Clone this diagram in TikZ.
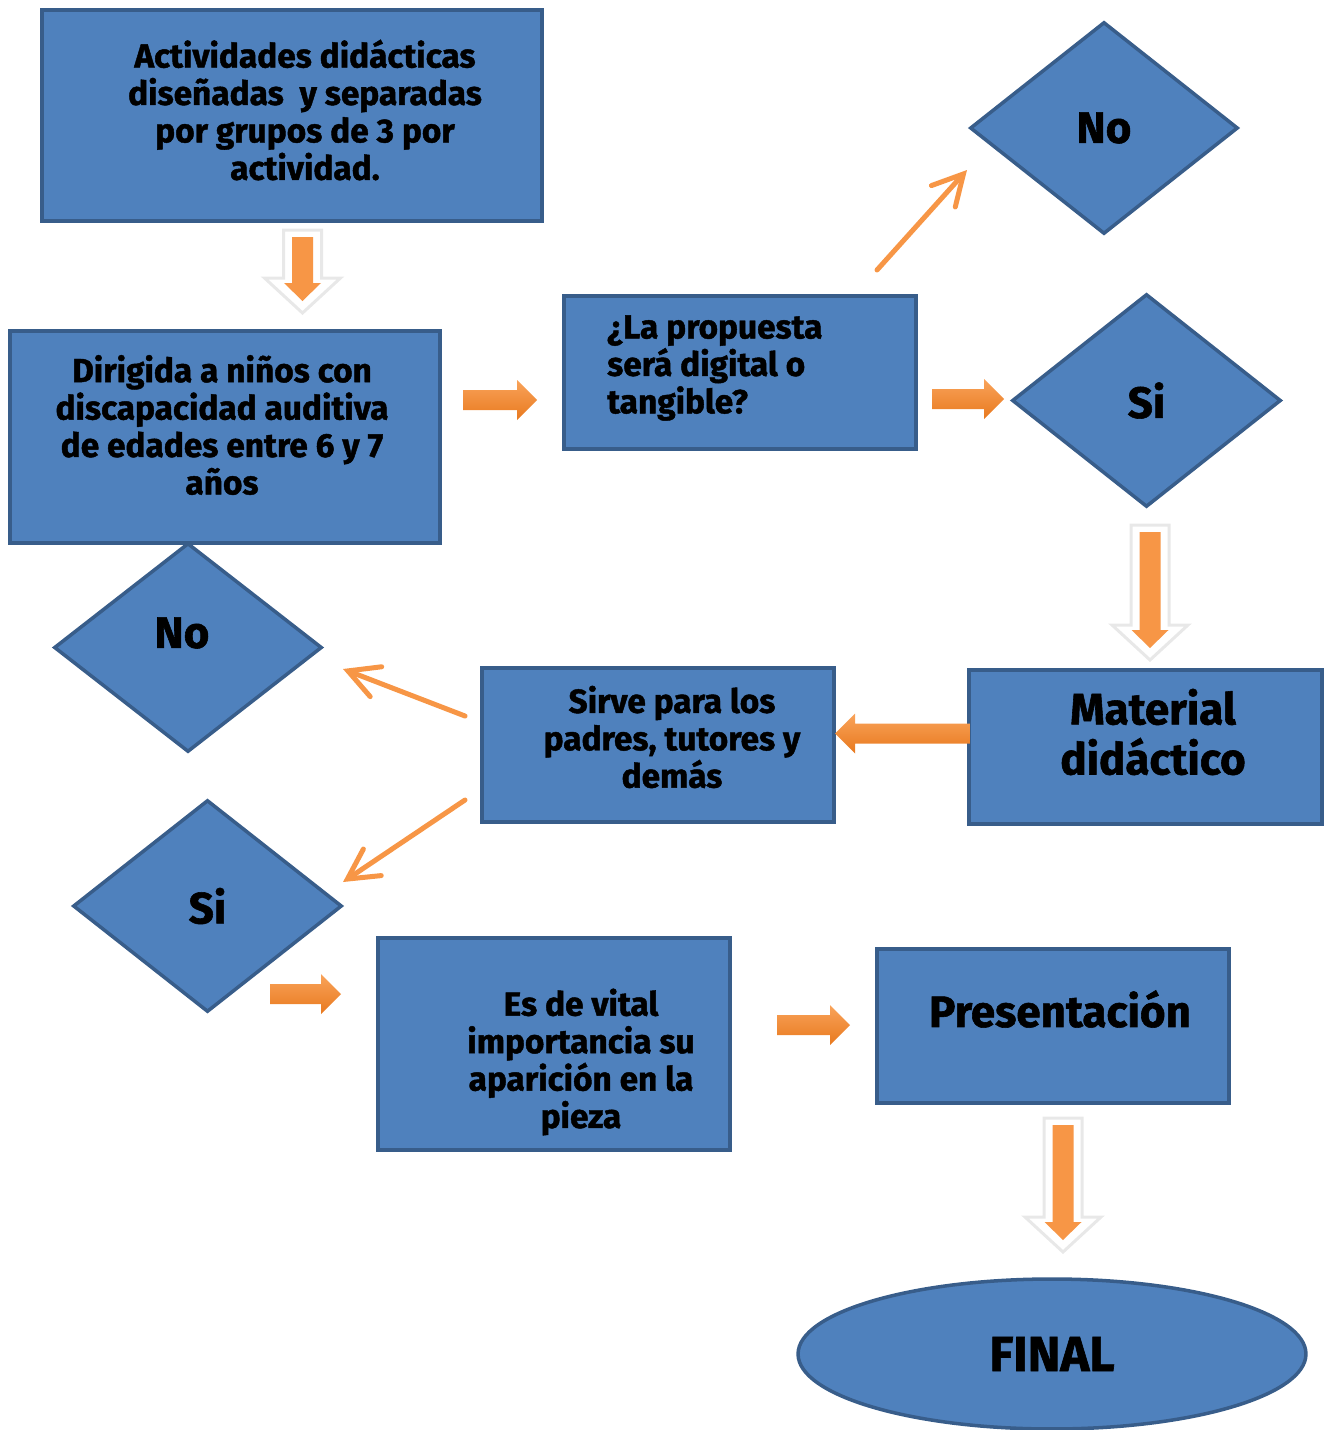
\documentclass[tikz,border=0pt]{standalone}
\usepackage{fontspec}
\setmainfont{Fira Sans}[BoldFeatures={FakeBold=1.3}]
\usetikzlibrary{shapes.geometric,arrows.meta}

\definecolor{azul}{HTML}{4F81BD}
\definecolor{azulborde}{HTML}{385D8A}
\definecolor{naranja}{HTML}{F79646}
\definecolor{naranjaclaro}{HTML}{F9A35A}
\definecolor{naranjaosc}{HTML}{E8791E}

\newcommand{\chico}{\bfseries\fontsize{19}{21.3}\selectfont}
\newcommand{\grande}{\bfseries\fontsize{25}{28.5}\selectfont}

% flecha gruesa con borde blanco: #1 punto superior, #2 largo del cuerpo
\newcommand{\flechablanca}[2]{
  \path[fill=white, draw=black!9, line width=0.06cm, line join=miter]
    (#1) ++(-19,0) -- ++(38,0) -- ++(0,#2) -- ++(19,0) -- ++(-38,35) -- ++(-38,-35) -- ++(19,0) -- cycle;
  \fill[naranja]
    (#1) ++(-10.5,7) -- ++(21,0) -- ++(0,#2-2) -- ++(8,0) -- ++(-18.5,18) -- ++(-18.5,-18) -- ++(8,0) -- cycle;
}
% flecha naranja horizontal: #2 cola, #3 largo
\newcommand{\flechanaranja}[3][]{
  \path[top color=naranjaclaro, bottom color=naranjaosc, #1]
    (#2) ++(0,-10) -- ++(#3-20,0) -- ++(0,-10) -- ++(20,20) -- ++(-20,20) -- ++(0,-10) -- ++(-#3+20,0) -- cycle;
}

\tikzset{
  caja/.style={rectangle, draw=azulborde, fill=azul, line width=2pt, inner sep=0pt},
  rombo/.style={diamond, draw=azulborde, fill=azul, line width=2pt, inner sep=0pt, font=\bfseries\fontsize{25}{30}\selectfont},
  texto/.style={align=center, font=\chico, text=black},
  flechita/.style={naranja, line width=0.1cm, line cap=round, -{Straight Barb[length=0.6cm,width=0.64cm,line cap=round]}}
}

\begin{document}
\begin{tikzpicture}[x=0.02cm, y=-0.02cm]
  \useasboundingbox (0,0) rectangle (1325,1430);

  % cajas
  \node[caja, minimum width=10cm, minimum height=4.22cm] (act) at (292,115.5) {};
  \node[texto] (act-t) at (305,110) {Actividades didácticas\\diseñadas \ y separadas\\por grupos de 3 por\\actividad.};

  \node[caja, minimum width=8.6cm, minimum height=4.24cm] (dirigida) at (225,437) {};
  \node[texto] (dirigida-t) at (222,425) {Dirigida a niños con\\discapacidad auditiva\\de edades entre 6 y 7\\años};

  \node[caja, minimum width=7.04cm, minimum height=3.06cm] (propuesta) at (740,372.5) {};
  \node[texto, align=left, anchor=west] (propuesta-t) at (601,368) {¿La propuesta\\será digital o\\tangible?};

  \node[caja, minimum width=7.06cm, minimum height=3.08cm] (material) at (1145.5,747) {};
  \node[texto, font=\grande] (material-t) at (1153,732) {Material\\didáctico};

  \node[caja, minimum width=7.04cm, minimum height=3.08cm] (sirve) at (658,745) {};
  \node[texto] (sirve-t) at (672,737) {Sirve para los\\padres, tutores y\\demás};

  \node[caja, minimum width=7.04cm, minimum height=4.24cm] (vital) at (554,1044) {};
  \node[texto] (vital-t) at (581,1062) {Es de vital\\importancia su\\aparición en la\\pieza};

  \node[caja, minimum width=7.04cm, minimum height=3.08cm] (presenta) at (1053,1026) {};
  \node[texto, font=\grande] (presenta-t) at (1060,1009) {Presentación};

  \node[ellipse, draw=azulborde, fill=azul, line width=2pt, minimum width=10.16cm, minimum height=3cm, font=\bfseries\fontsize{28}{32}\selectfont] (final) at (1052,1354) {FINAL};

  % rombos
  \node[rombo, minimum width=5.36cm, minimum height=4.24cm] (no1) at (1104,128) {No};
  \node[rombo, minimum width=5.38cm, minimum height=4.26cm] (si1) at (1146.5,400.5) {Si};
  \node[rombo, minimum width=5.36cm, minimum height=4.18cm] (no2) at (188,647.5) {};
  \node[texto, font=\bfseries\fontsize{25}{30}\selectfont] (no2-t) at (182,633) {No};
  \node[rombo, minimum width=5.38cm, minimum height=4.24cm] (si2) at (207.5,906) {Si};

  % flechas gruesas
  \coordinate (f1) at (302.5,230);
  \coordinate (f2) at (1150,525);
  \coordinate (f3) at (1063,1118);
  \flechablanca{f1}{48}
  \flechablanca{f2}{100}
  \flechablanca{f3}{99}

  \coordinate (d1) at (463,400);
  \coordinate (p1) at (932,399);
  \coordinate (m1) at (970,733.5);
  \coordinate (s1) at (270,994);
  \coordinate (v1) at (777,1025);
  \flechanaranja{d1}{74}
  \flechanaranja{p1}{72}
  \flechanaranja[xscale=-1]{m1}{135}
  \flechanaranja{s1}{71}
  \flechanaranja{v1}{73}

  % flechas finas
  \coordinate (n1) at (877,270);  \coordinate (n2) at (967,170);
  \coordinate (n3) at (465,716);  \coordinate (n4) at (343,669);
  \coordinate (n5) at (465,800);  \coordinate (n6) at (343,882);
  \draw[flechita] (n1) -- (n2);
  \draw[flechita] (n3) -- (n4);
  \draw[flechita] (n5) -- (n6);
\end{tikzpicture}
\end{document}
